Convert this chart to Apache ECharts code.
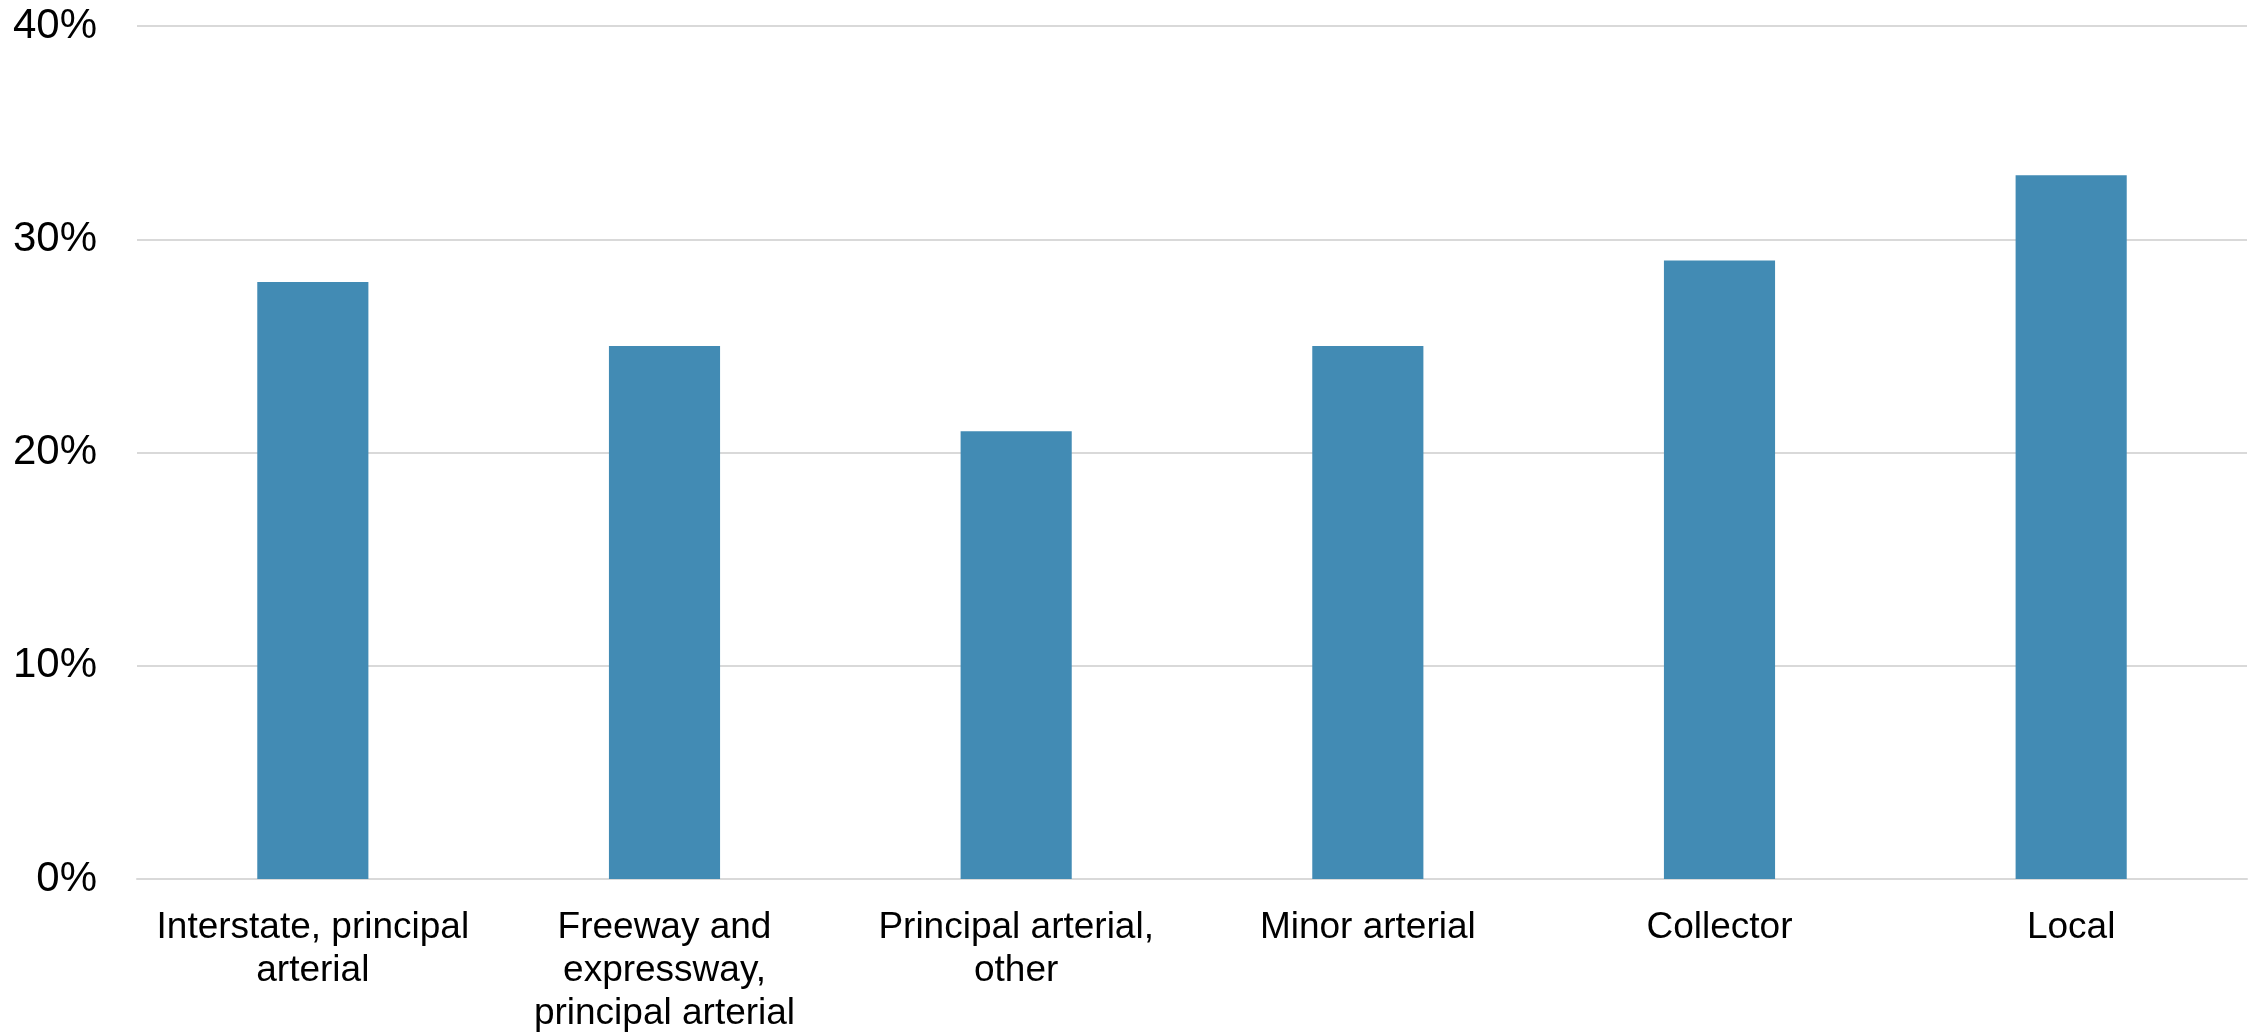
<!DOCTYPE html>
<html>
<head>
<meta charset="utf-8">
<script src="https://cdn.jsdelivr.net/npm/echarts@6/dist/echarts.min.js"></script>
<style>
html,body{margin:0;padding:0;background:#fff;}
#chart{width:2257px;height:1035px;}
</style>
</head>
<body>
<div id="chart"></div>
<script>
const categories = [
  "Interstate, principal\narterial",
  "Freeway and\nexpressway,\nprincipal arterial",
  "Principal arterial,\nother",
  "Minor arterial",
  "Collector",
  "Local"
];
const values = [28, 25, 21, 25, 29, 33];
const yTicks = [0, 10, 20, 30, 40];

const chart = echarts.init(document.getElementById('chart'));
chart.setOption({
  animation: false,
  backgroundColor: '#ffffff',
  grid: { left: 137, right: 10, top: 26, bottom: 153, containLabel: false },
  xAxis: {
    type: 'category',
    data: categories,
    axisTick: { show: false },
    axisLine: { show: true, lineStyle: { color: '#D9D9D9', width: 2 } },
    axisLabel: {
      interval: 0,
      margin: 27,
      color: '#000000',
      fontFamily: 'Liberation Sans, Arial, sans-serif',
      fontSize: 37,
      lineHeight: 43,
      align: 'center'
    }
  },
  yAxis: {
    type: 'value',
    min: yTicks[0],
    max: yTicks[yTicks.length - 1],
    interval: yTicks[1] - yTicks[0],
    axisLine: { show: false },
    axisTick: { show: false },
    splitLine: { show: true, lineStyle: { color: '#D9D9D9', width: 2 } },
    axisLabel: {
      margin: 40,
      color: '#000000',
      fontFamily: 'Liberation Sans, Arial, sans-serif',
      fontSize: 42,
      formatter: '{value}%'
    }
  },
  series: [{
    type: 'bar',
    data: values,
    barWidth: '31.6%',
    itemStyle: { color: '#428BB4' }
  }]
});
</script>
</body>
</html>
